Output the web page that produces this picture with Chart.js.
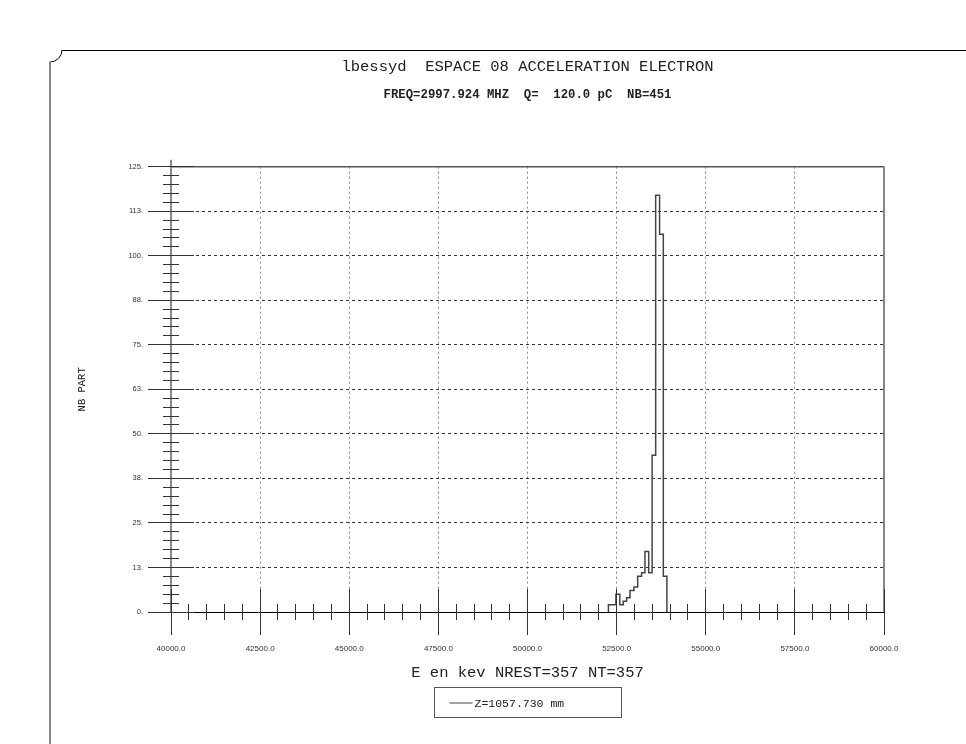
<!DOCTYPE html>
<html>
<head>
<meta charset="utf-8">
<title>ESPACE 08 ACCELERATION ELECTRON</title>
<script src="https://cdn.jsdelivr.net/npm/chart.js@4.4.1/dist/chart.umd.min.js"></script>
<style>
	body { margin: 0; background: #fff; }
	#wrap { width: 966px; height: 744px; }
</style>
</head>
<body>
<div id="wrap"><canvas id="histo" width="966" height="744"></canvas></div>
<script>
// bin edges (keV) and particle counts
const binEdges = [52270, 52375, 52480, 52590, 52685, 52780, 52875, 52985, 53090, 53200, 53295, 53400, 53495, 53595, 53705, 53810, 53910];
const binCounts = [2, 2, 5, 2, 3, 4, 6, 7, 10, 11, 17, 11, 44, 117, 106, 10];

const xTickLabels = ['40000.0', '42500.0', '45000.0', '47500.0', '50000.0', '52500.0', '55000.0', '57500.0', '60000.0'];
const yTickLabels = ['0.', '13.', '25.', '38.', '50.', '63.', '75.', '88.', '100.', '113.', '125.'];

const xMin = 40000, xMax = 60000, xMajor = 2500, xMinor = 500;
const yMin = 0, yMax = 125, yMajor = 12.5, yMinor = 2.5;

const titleText = 'lbessyd  ESPACE 08 ACCELERATION ELECTRON';
const subtitleText = 'FREQ=2997.924 MHZ  Q=  120.0 pC  NB=451';
const xTitle = 'E en kev NREST=357 NT=357';
const yTitle = 'NB PART';
const seriesLabel = 'Z=1057.730 mm';

// histogram outline as a stepped line
let points = [{ x: binEdges[0], y: 0 }];
for (let i = 0; i < binCounts.length; i++) {
	points.push({ x: binEdges[i], y: binCounts[i] });
}
points.push({ x: binEdges[binEdges.length - 1], y: 0 });

const mono = 'Liberation Mono, DejaVu Sans Mono, monospace';

// same half-pixel snapping chart.js uses for 1px lines
function snap(p) {
	return Math.round(p - 0.5) + 0.5;
}

// page frame, plot box, crossing ticks and the boxed legend
const decor = {
	id: 'decor',
	afterDraw(chart) {
		const ctx = chart.ctx;
		const area = chart.chartArea;
		const x = chart.scales.x;
		const y = chart.scales.y;
		ctx.save();

		// outer frame with notched corner
		ctx.strokeStyle = '#000';
		ctx.lineWidth = 1;
		ctx.beginPath();
		ctx.moveTo(966, 50.5);
		ctx.lineTo(62, 50.5);
		ctx.arc(50, 50, 12, 0, Math.PI / 2);
		ctx.stroke();
		ctx.strokeStyle = '#888';
		ctx.lineWidth = 2;
		ctx.beginPath();
		ctx.moveTo(50, 62);
		ctx.lineTo(50, 744);
		ctx.stroke();

		// plot box top and right, y axis runs a little past the top
		ctx.strokeStyle = '#555';
		ctx.lineWidth = 1.5;
		ctx.beginPath();
		ctx.moveTo(area.left, area.top);
		ctx.lineTo(area.right, area.top);
		ctx.stroke();
		ctx.strokeStyle = '#888';
		ctx.lineWidth = 2;
		ctx.beginPath();
		ctx.moveTo(area.right, area.top);
		ctx.lineTo(area.right, area.bottom);
		ctx.moveTo(area.left, area.top - 7);
		ctx.lineTo(area.left, area.top);
		ctx.stroke();

		// ticks crossing the axes
		ctx.strokeStyle = '#333';
		ctx.lineWidth = 1;
		ctx.beginPath();
		const nx = Math.round((xMax - xMin) / xMinor);
		for (let i = 0; i <= nx; i++) {
			const px = snap(x.getPixelForValue(xMin + i * xMinor));
			const h = i % (xMajor / xMinor) === 0 ? 23 : 8;
			ctx.moveTo(px, area.bottom - h);
			ctx.lineTo(px, area.bottom + h);
		}
		const ny = Math.round((yMax - yMin) / yMinor);
		for (let i = 0; i <= ny; i++) {
			const py = snap(y.getPixelForValue(yMin + i * yMinor));
			const w = i % (yMajor / yMinor) === 0 ? 23 : 8;
			ctx.moveTo(area.left - w, py);
			ctx.lineTo(area.left + w, py);
		}
		ctx.stroke();

		// legend box
		const ds = chart.data.datasets[0];
		const bw = 187, bh = 30;
		const bx = Math.round((area.left + area.right) / 2 - bw / 2) + 0.5;
		const by = Math.round(area.bottom + 75) + 0.5;
		ctx.strokeStyle = '#555';
		ctx.lineWidth = 1;
		ctx.strokeRect(bx, by, bw, bh);
		ctx.strokeStyle = ds.borderColor;
		ctx.beginPath();
		ctx.moveTo(bx + 15, by + 15.5);
		ctx.lineTo(bx + 38, by + 15.5);
		ctx.stroke();
		ctx.fillStyle = '#222';
		ctx.font = '11.5px ' + mono;
		ctx.textBaseline = 'middle';
		ctx.textAlign = 'left';
		ctx.fillText(ds.label, bx + 40, by + 16);

		ctx.restore();
	}
};

Chart.defaults.font.family = 'Liberation Sans, Arial, sans-serif';
Chart.defaults.color = '#333';

var ctx = document.getElementById('histo').getContext('2d');

var histo = new Chart(ctx, {
	type: 'line',
	data: {
		datasets: [
			{
				label: seriesLabel,
				data: points,
				stepped: 'before',
				borderColor: '#444',
				borderWidth: 1.5,
				pointRadius: 0,
				fill: false,
			},
		],
	},
	options: {
		responsive: false,
		animation: false,
		layout: { padding: { left: 50, right: 82, top: 48, bottom: 52 } },
		plugins: {
			legend: { display: false },
			tooltip: { enabled: false },
			title: {
				display: true,
				fullSize: false,
				text: titleText,
				color: '#222',
				font: { family: mono, size: 15.5, weight: 'normal', lineHeight: 1.2 },
				padding: { top: 9.4, bottom: 4 },
			},
			subtitle: {
				display: true,
				fullSize: false,
				text: subtitleText,
				color: '#222',
				font: { family: mono, size: 12.3, weight: 'bold', lineHeight: 1.2 },
				padding: { top: 7.8, bottom: 64.1 },
			},
		},
		scales: {
			x: {
				type: 'linear',
				min: xMin,
				max: xMax,
				afterFit: function (scale) {
					scale.height = 80;
				},
				ticks: {
					stepSize: xMajor,
					maxRotation: 0,
					autoSkip: false,
					padding: 31.5,
					font: { size: 8 },
					callback: function (v, i) {
						return xTickLabels[i];
					},
				},
				grid: { color: '#888', lineWidth: 1, drawTicks: false },
				border: { display: true, color: '#000', width: 1, dash: [2, 3] },
				title: {
					display: true,
					text: xTitle,
					color: '#222',
					font: { family: mono, size: 15.5, lineHeight: 1.2 },
					padding: { top: 0, bottom: 9.7 },
				},
			},
			y: {
				min: yMin,
				max: yMax,
				afterFit: function (scale) {
					scale.width = 121;
				},
				ticks: {
					stepSize: yMajor,
					autoSkip: false,
					padding: 28,
					font: { size: 7.5 },
					callback: function (v, i) {
						return yTickLabels[i];
					},
				},
				grid: { color: '#333', lineWidth: 1, drawTicks: false },
				border: { display: true, color: '#888', width: 2, dash: [3, 3] },
				title: {
					display: true,
					text: yTitle,
					color: '#222',
					font: { family: mono, size: 10.5, lineHeight: 1.2 },
					padding: { top: 25.7, bottom: 0 },
				},
			},
		},
	},
	plugins: [decor],
});
</script>
</body>
</html>
